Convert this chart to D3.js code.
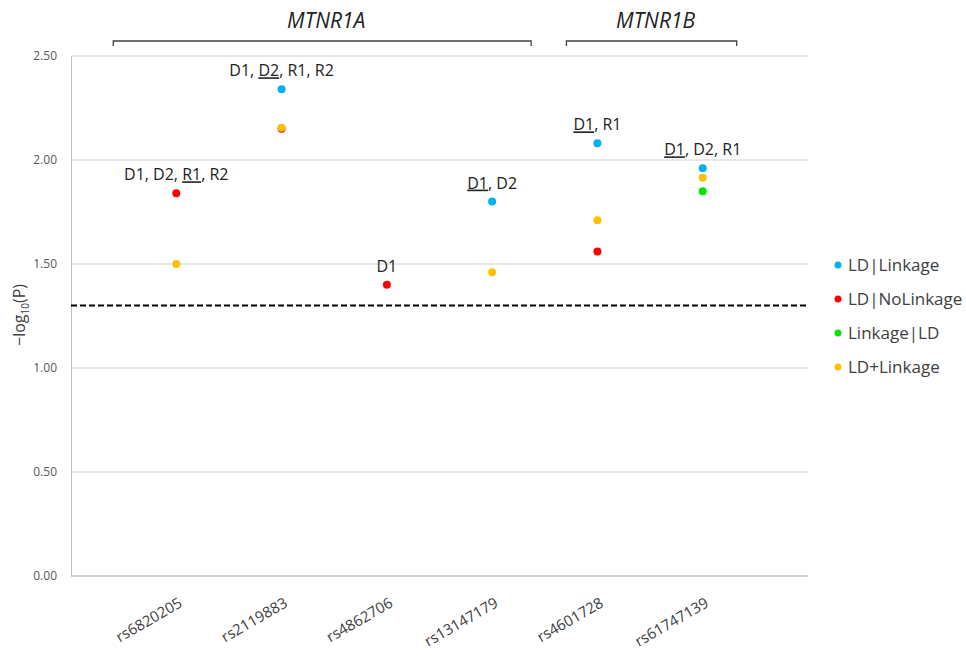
<!DOCTYPE html>
<html>
<head>
<meta charset="utf-8">
<script src="https://cdn.jsdelivr.net/npm/d3@7"></script>
<style>
  body { margin: 0; background: #fff; }
  text { font-family: "Open Sans", "Liberation Sans", sans-serif; fill: #222; }
</style>
</head>
<body>
<div id="chart"></div>
<script>
// Our canvas
const width = 966,
  height = 656,
  marginLeft = 71,
  marginRight = 158,
  marginTop = 56,
  marginBottom = 80

// data
const snps = ['rs6820205', 'rs2119883', 'rs4862706', 'rs13147179', 'rs4601728', 'rs61747139']
const series = ['LD|Linkage', 'LD|NoLinkage', 'Linkage|LD', 'LD+Linkage']
const colors = ['#00b0f0', '#ff0000', '#00e600', '#ffc000']
// null = no point for that snp
const ldLinkage = [null, 2.34, null, 1.80, 2.08, 1.96]
const ldNoLinkage = [1.84, 2.15, 1.40, null, 1.56, null]
const linkageLd = [null, null, null, null, null, 1.85]
const ldPlusLinkage = [1.50, 2.155, null, 1.46, 1.71, 1.915]
const yTicks = [0, 0.5, 1, 1.5, 2, 2.5]
const threshold = 1.30
// annotation text above each snp, [text, underlined?]
const notes = [
  [['D1', 0], [', D2', 0], [', ', 0], ['R1', 1], [', R2', 0]],
  [['D1, ', 0], ['D2', 1], [', R1, R2', 0]],
  [['D1', 0]],
  [['D1', 1], [', D2', 0]],
  [['D1', 1], [', R1', 0]],
  [['D1', 1], [', D2, R1', 0]]
]
const genes = [
  { name: 'MTNR1A', from: 'rs6820205', to: 'rs13147179', padL: 63, padR: 39 },
  { name: 'MTNR1B', from: 'rs4601728', to: 'rs61747139', padL: 31, padR: 34 }
]

const svg = d3.select('#chart')
  .append('svg')
  .attr('width', width)
  .attr('height', height)

const xScale = d3.scalePoint()
  .domain(snps)
  .range([marginLeft, width - marginRight])
  .padding(1)

const yScale = d3.scaleLinear()
  .domain([0, 2.5])
  .range([height - marginBottom, marginTop])

// gridlines
svg.append('g')
  .selectAll('line')
  .data(yTicks)
  .enter()
  .append('line')
  .attr('x1', marginLeft)
  .attr('x2', width - marginRight)
  .attr('y1', d => yScale(d))
  .attr('y2', d => yScale(d))
  .attr('stroke', '#d0d0d0')
  .attr('stroke-width', 1)

// left axis
let yAxis = svg.append('g')
  .attr('transform', `translate(${marginLeft},0)`)
  .call(d3.axisLeft(yScale).tickValues(yTicks).tickFormat(d3.format('.2f')).tickSize(0).tickPadding(14))
yAxis.select('.domain').attr('stroke', '#bfbfbf')
yAxis.selectAll('text').style('font-size', '12px').style('fill', '#595959')

// bottom axis line
svg.append('line')
  .attr('x1', marginLeft)
  .attr('x2', width - marginRight)
  .attr('y1', yScale(0))
  .attr('y2', yScale(0))
  .attr('stroke', '#bfbfbf')

// x labels
svg.append('g')
  .selectAll('text')
  .data(snps)
  .enter()
  .append('text')
  .attr('transform', d => `translate(${xScale(d) + 7},${yScale(0) + 30}) rotate(-30)`)
  .attr('text-anchor', 'end')
  .style('font-size', '15px')
  .style('fill', '#404040')
  .text(d => d)

// y label
let yLab = svg.append('text')
  .attr('transform', `translate(25,315) rotate(-90)`)
  .attr('text-anchor', 'middle')
  .style('font-size', '16px')
  .style('fill', '#404040')
yLab.append('tspan').text('\u2212log')
yLab.append('tspan').attr('dy', 4).style('font-size', '10px').text('10')
yLab.append('tspan').attr('dy', -4).text('(P)')

// threshold
svg.append('line')
  .attr('x1', marginLeft)
  .attr('x2', width - marginRight)
  .attr('y1', yScale(threshold))
  .attr('y2', yScale(threshold))
  .attr('stroke', '#000')
  .attr('stroke-width', 2)
  .attr('stroke-dasharray', '6,3')

// points
const allSeries = [ldLinkage, ldNoLinkage, linkageLd, ldPlusLinkage]
allSeries.forEach((vals, s) => {
  svg.append('g')
    .selectAll('circle')
    .data(vals.map((v, i) => ({ snp: snps[i], v: v })).filter(d => d.v !== null))
    .enter()
    .append('circle')
    .attr('cx', d => xScale(d.snp))
    .attr('cy', d => yScale(d.v))
    .attr('r', 4)
    .attr('fill', colors[s])
})

// annotations above the top point
snps.forEach((snp, i) => {
  let top = d3.max(allSeries.map(a => a[i]))
  let t = svg.append('text')
    .attr('x', xScale(snp))
    .attr('y', yScale(top) - 13)
    .attr('text-anchor', 'middle')
    .style('font-size', '16px')
  notes[i].forEach(p => {
    t.append('tspan')
      .style('text-decoration', p[1] ? 'underline' : 'none')
      .text(p[0])
  })
})

// gene brackets
genes.forEach(g => {
  let x1 = xScale(g.from) - g.padL,
    x2 = xScale(g.to) + g.padR,
    y = 41
  svg.append('path')
    .attr('d', `M${x1},${y + 5}V${y}H${x2}V${y + 5}`)
    .attr('fill', 'none')
    .attr('stroke', '#404040')
    .attr('stroke-width', 1.3)
  svg.append('text')
    .attr('x', (x1 + x2) / 2 + 4)
    .attr('y', 28)
    .attr('text-anchor', 'middle')
    .style('font-size', '21px')
    .style('font-style', 'italic')
    .text(g.name)
})

// legend
let legend = svg.append('g')
  .selectAll('g')
  .data(series)
  .enter()
  .append('g')
  .attr('transform', (d, i) => `translate(838,${265 + i * 34})`)
legend.append('circle')
  .attr('r', 3.5)
  .attr('fill', (d, i) => colors[i])
legend.append('text')
  .attr('x', 10)
  .attr('y', 6)
  .style('font-size', '17px')
  .style('fill', '#404040')
  .text(d => d)
</script>
</body>
</html>
